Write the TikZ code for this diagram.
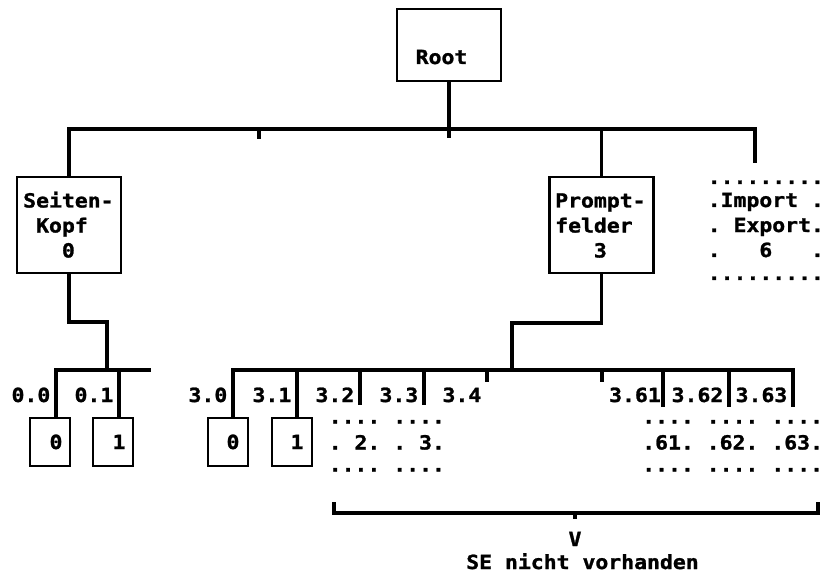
\documentclass[tikz,border=0pt]{standalone}
\usepackage{fontspec}
\newfontfamily\dm[FakeStretch=1.10,FakeBold=1.3]{DejaVu Sans Mono Bold}
\def\xx{\hphantom{0}}
\begin{document}
\begin{tikzpicture}[x=1pt,y=-1pt,
  wire/.style={line width=3.1pt},
  box/.style={draw, line width=2.9pt, inner sep=0pt},
  txt/.style={inner sep=0pt, anchor=base west, font=\dm\fontsize{19.5}{25}\selectfont},
  ctxt/.style={txt, anchor=base},
  lab/.style={txt, anchor=base east}]
\useasboundingbox (0,0) rectangle (824,572);

% ---------- level 0 ----------
\node[box, minimum width=104pt, minimum height=72pt] (root) at (449,45) {};
\node[txt] (roottxt) at (415.5,64) {Root};

% ---------- level 1 ----------
\node[box, minimum width=104pt, minimum height=96pt] (sk) at (69,225) {};
\node[txt] (sktxt) at (23,207.5) {\begin{tabular}[t]{@{}l@{}}Seiten-\\\xx Kopf\\\xx\xx\xx 0\end{tabular}};

\node[box, minimum width=104pt, minimum height=96pt] (pf) at (601.5,225) {};
\node[txt] (pftxt) at (555,207.5) {\begin{tabular}[t]{@{}l@{}}Prompt-\\felder\\\xx\xx\xx 3\end{tabular}};

\node[txt] (ie) at (707.5,184) {\begin{tabular}[t]{@{}l@{}}.........\\[-2pt].Import\xx.\\.\xx Export.\\.\xx\xx\xx 6\xx\xx\xx.\\[-2pt].........\end{tabular}};

% top-level connectors
\coordinate (tR) at (755,129);
\coordinate (ieT) at (755,163);
\coordinate (rt) at (449,138);
\coordinate (t1) at (259,129);
\coordinate (t1e) at (259,139);
\draw[wire] (root.south) -- (rt);
\draw[wire] (sk.north) |- (tR) -- (ieT);
\draw[wire] (pf.north) -- (pf.north |- tR);
\draw[wire] (t1) -- (t1e);

% ---------- level 2, left ----------
\coordinate (lj) at (107,370);
\coordinate (b00) at (56,370);
\coordinate (b01) at (119,370);
\coordinate (lE) at (151,370);
\node[box, minimum width=40pt, minimum height=48pt] (c00) at (50,442) {};
\node[box, minimum width=40pt, minimum height=48pt] (c01) at (113,442) {};
\node[ctxt] (t00) at (56,449) {0};
\node[ctxt] (t01) at (119,449) {1};
\draw[wire] (sk.south) |- ([yshift=48pt]lj) -- (lj);
\draw[wire] (c00.north -| b00) |- (lE);
\draw[wire] (b01) -- (c01.north -| b01);
\node[lab] (l00) at (50.5,402) {0.0};
\node[lab] (l01) at (113.5,402) {0.1};

% ---------- level 2, right ----------
\coordinate (rj) at (512,370);
\coordinate (b30) at (233,370);
\coordinate (b31) at (297,370);
\coordinate (b32) at (360,370);
\coordinate (b32e) at (360,405);
\coordinate (b33) at (424,370);
\coordinate (b33e) at (424,405);
\coordinate (b34) at (487,370);
\coordinate (b34e) at (487,382);
\coordinate (b35) at (602,370);
\coordinate (b35e) at (602,382);
\coordinate (b361) at (663,370);
\coordinate (b361e) at (663,407);
\coordinate (b362) at (729,370);
\coordinate (b362e) at (729,407);
\coordinate (b363) at (793,370);
\coordinate (b363e) at (793,407);
\node[box, minimum width=40pt, minimum height=48pt] (c30) at (228,442) {};
\node[box, minimum width=40pt, minimum height=48pt] (c31) at (292,442) {};
\node[ctxt] (t30) at (233,449) {0};
\node[ctxt] (t31) at (297,449) {1};
\draw[wire] (pf.south) |- ([yshift=47pt]rj) -- (rj);
\draw[wire] (c30.north -| b30) |- (b363) -- (b363e);
\draw[wire] (b31) -- (c31.north -| b31);
\draw[wire] (b32) -- (b32e);
\draw[wire] (b33) -- (b33e);
\draw[wire] (b34) -- (b34e);
\draw[wire] (b35) -- (b35e);
\draw[wire] (b361) -- (b361e);
\draw[wire] (b362) -- (b362e);
\node[lab] (l30) at (227.5,402) {3.0};
\node[lab] (l31) at (291.5,402) {3.1};
\node[lab] (l32) at (354.5,402) {3.2};
\node[lab] (l33) at (418.5,402) {3.3};
\node[lab] (l34) at (481.5,402) {3.4};
\node[lab] (l361) at (661,402) {3.61};
\node[lab] (l362) at (723.5,402) {3.62};
\node[lab] (l363) at (787.5,402) {3.63};

\node[txt] (g23) at (328.5,423.5) {\begin{tabular}[t]{@{}l@{}}....\xx....\\[1pt].\xx 2.\xx.\xx 3.\\[-3pt]....\xx....\end{tabular}};
\node[txt] (g6) at (642,423.5) {\begin{tabular}[t]{@{}l@{}}....\xx....\xx....\\[1pt].61.\xx.62.\xx.63.\\[-3pt]....\xx....\xx....\end{tabular}};

% ---------- bracket ----------
\coordinate (bl) at (334,502);
\coordinate (br) at (818,502);
\coordinate (bm) at (575,513);
\coordinate (bt) at (575,519);
\draw[wire] (bl) |- (bm) -| (br);
\draw[wire] (bm) -- (bt);
\node[ctxt] (vv) at (575,546) {V};
\node[ctxt] (se) at (582.5,569) {SE nicht vorhanden};
\end{tikzpicture}
\end{document}
